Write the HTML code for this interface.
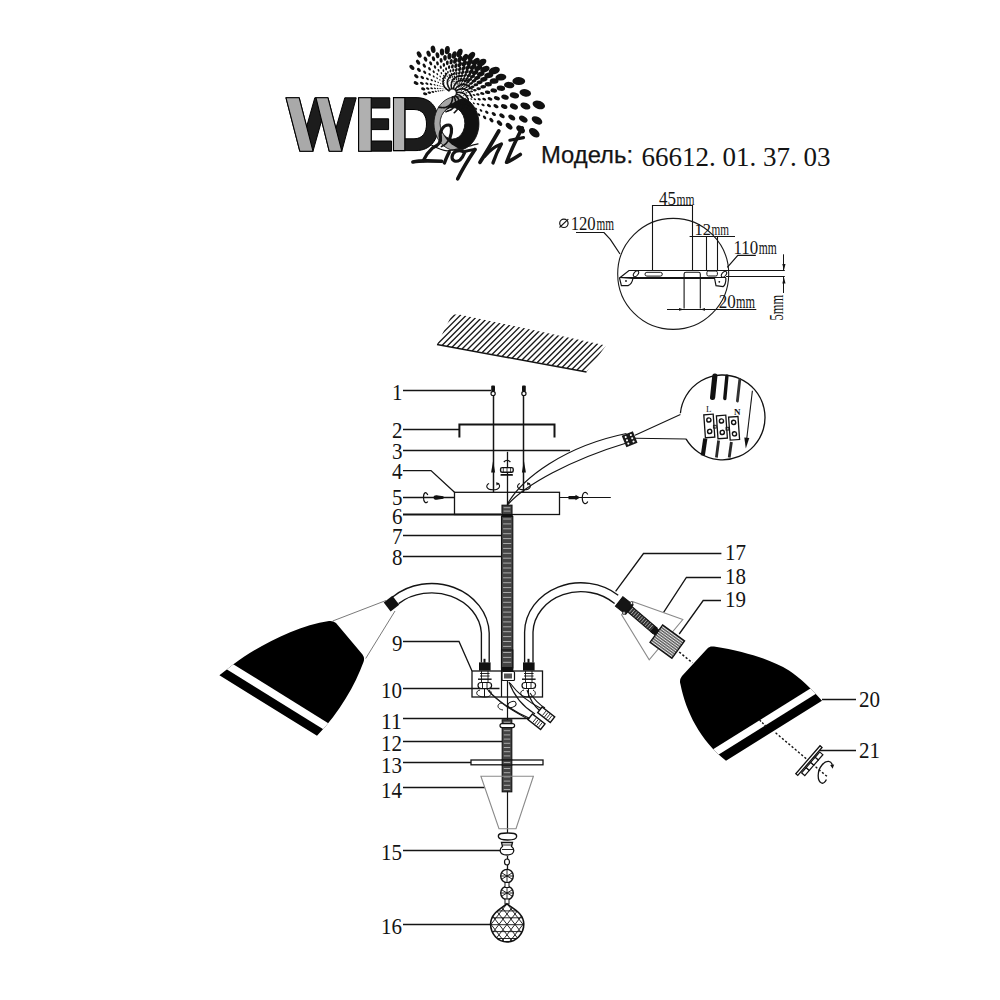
<!DOCTYPE html>
<html><head><meta charset="utf-8"><style>html,body{margin:0;padding:0;background:#fff;width:1000px;height:1000px;overflow:hidden}svg{display:block}</style></head>
<body><svg width="1000" height="1000" viewBox="0 0 1000 1000">
<rect width="1000" height="1000" fill="#fff"/>
<polygon points="286.00,97.80 299.20,97.80 306.64,126.60 314.80,97.80 328.00,97.80 335.92,128.28 344.80,97.80 356.20,97.80 341.80,151.20 329.20,151.20 321.64,120.48 313.00,151.20 299.80,151.20" fill="#1c1c1c" stroke="#000" stroke-width="1" />
<polygon points="286.00,97.80 299.20,97.80 313.00,151.20 299.80,151.20" fill="#a9a9a9" stroke="#000" stroke-width="1.1" />
<polygon points="316.00,97.80 328.00,97.80 341.80,151.20 329.20,151.20" fill="#a9a9a9" stroke="#000" stroke-width="1.1" />
<polygon points="358.60,97.80 389.80,97.80 389.80,108.00 371.20,108.00 371.20,118.80 388.60,118.80 388.60,129.60 371.20,129.60 371.20,141.00 391.60,141.00 391.60,151.20 358.60,151.20" fill="#1c1c1c" stroke="#000" stroke-width="1" />
<polygon points="358.60,97.80 371.20,97.80 371.20,151.20 358.60,151.20" fill="#b0b0b0" stroke="#000" stroke-width="1.1" />
<path d="M393.5,97.6 L416,97.6 C433,97.6 438.5,110 438.5,124 C438.5,139 431,150.6 416,150.6 L393.5,150.6 Z M405,109.5 L414,109.5 C423,109.5 426.5,116 426.5,124 C426.5,132 423,138.8 414,138.8 L405,138.8 Z" fill="#1c1c1c" fill-rule="evenodd" stroke="#000" stroke-width="1"/>
<polygon points="393.50,97.60 404.80,97.60 404.80,150.60 393.50,150.60" fill="#b0b0b0" stroke="#000" stroke-width="1.1" />
<defs><clipPath id="oclip"><ellipse cx="478" cy="124" rx="37.5" ry="28.5"/></clipPath></defs>
<path d="M456.5,96.6 A22.5,27 0 1 1 456.4,96.6 Z M452.4,107.5 A12.4,15.8 0 1 0 452.5,107.5 Z" fill="#a6a6a6" fill-rule="evenodd" stroke="#1a1a1a" stroke-width="0.9"/>
<path d="M456.5,96.6 A22.5,27 0 1 1 456.4,96.6 Z M452.4,107.5 A12.4,15.8 0 1 0 452.5,107.5 Z" fill="#111" fill-rule="evenodd" clip-path="url(#oclip)"/>
<g fill="#111"><ellipse cx="534.3" cy="132.7" rx="6.07" ry="3.76" transform="rotate(38 534.3 132.7)"/><ellipse cx="520.6" cy="129.4" rx="4.92" ry="3.05" transform="rotate(40 520.6 129.4)"/><ellipse cx="509.1" cy="126.2" rx="3.98" ry="2.47" transform="rotate(43 509.1 126.2)"/><ellipse cx="499.5" cy="123.1" rx="3.22" ry="2.00" transform="rotate(45 499.5 123.1)"/><ellipse cx="491.4" cy="120.1" rx="2.61" ry="1.62" transform="rotate(47 491.4 120.1)"/><ellipse cx="484.6" cy="117.3" rx="2.11" ry="1.31" transform="rotate(49 484.6 117.3)"/><ellipse cx="478.9" cy="114.7" rx="1.71" ry="1.06" transform="rotate(52 478.9 114.7)"/><ellipse cx="474.2" cy="112.3" rx="1.38" ry="0.86" transform="rotate(54 474.2 112.3)"/><ellipse cx="470.3" cy="110.1" rx="1.12" ry="0.69" transform="rotate(56 470.3 110.1)"/><ellipse cx="467.0" cy="108.1" rx="0.91" ry="0.56" transform="rotate(58 467.0 108.1)"/><ellipse cx="464.3" cy="106.3" rx="0.73" ry="0.46" transform="rotate(61 464.3 106.3)"/><ellipse cx="462.1" cy="104.6" rx="0.59" ry="0.37" transform="rotate(63 462.1 104.6)"/><ellipse cx="537.0" cy="120.4" rx="5.78" ry="3.58" transform="rotate(30 537.0 120.4)"/><ellipse cx="523.3" cy="119.1" rx="4.68" ry="2.90" transform="rotate(32 523.3 119.1)"/><ellipse cx="511.8" cy="117.5" rx="3.79" ry="2.35" transform="rotate(35 511.8 117.5)"/><ellipse cx="502.0" cy="115.8" rx="3.06" ry="1.90" transform="rotate(37 502.0 115.8)"/><ellipse cx="493.8" cy="114.0" rx="2.48" ry="1.54" transform="rotate(39 493.8 114.0)"/><ellipse cx="486.8" cy="112.2" rx="2.01" ry="1.25" transform="rotate(41 486.8 112.2)"/><ellipse cx="481.0" cy="110.4" rx="1.63" ry="1.01" transform="rotate(44 481.0 110.4)"/><ellipse cx="476.1" cy="108.7" rx="1.32" ry="0.82" transform="rotate(46 476.1 108.7)"/><ellipse cx="472.0" cy="107.1" rx="1.07" ry="0.66" transform="rotate(48 472.0 107.1)"/><ellipse cx="468.6" cy="105.6" rx="0.86" ry="0.53" transform="rotate(51 468.6 105.6)"/><ellipse cx="465.7" cy="104.2" rx="0.70" ry="0.43" transform="rotate(53 465.7 104.2)"/><ellipse cx="463.4" cy="103.0" rx="0.57" ry="0.35" transform="rotate(55 463.4 103.0)"/><ellipse cx="538.8" cy="104.9" rx="6.50" ry="4.03" transform="rotate(20 538.8 104.9)"/><ellipse cx="525.4" cy="106.0" rx="5.26" ry="3.26" transform="rotate(22 525.4 106.0)"/><ellipse cx="513.9" cy="106.5" rx="4.26" ry="2.64" transform="rotate(25 513.9 106.5)"/><ellipse cx="504.2" cy="106.5" rx="3.45" ry="2.14" transform="rotate(27 504.2 106.5)"/><ellipse cx="496.0" cy="106.2" rx="2.79" ry="1.73" transform="rotate(29 496.0 106.2)"/><ellipse cx="489.0" cy="105.6" rx="2.26" ry="1.40" transform="rotate(31 489.0 105.6)"/><ellipse cx="483.0" cy="104.9" rx="1.83" ry="1.13" transform="rotate(34 483.0 104.9)"/><ellipse cx="478.0" cy="104.1" rx="1.48" ry="0.92" transform="rotate(36 478.0 104.1)"/><ellipse cx="473.8" cy="103.3" rx="1.20" ry="0.74" transform="rotate(38 473.8 103.3)"/><ellipse cx="470.2" cy="102.4" rx="0.97" ry="0.60" transform="rotate(40 470.2 102.4)"/><ellipse cx="467.2" cy="101.6" rx="0.79" ry="0.49" transform="rotate(43 467.2 101.6)"/><ellipse cx="464.7" cy="100.7" rx="0.64" ry="0.39" transform="rotate(45 464.7 100.7)"/><ellipse cx="525.3" cy="92.9" rx="5.87" ry="3.64" transform="rotate(12 525.3 92.9)"/><ellipse cx="514.4" cy="95.4" rx="4.75" ry="2.95" transform="rotate(14 514.4 95.4)"/><ellipse cx="505.0" cy="97.1" rx="3.85" ry="2.39" transform="rotate(17 505.0 97.1)"/><ellipse cx="496.9" cy="98.2" rx="3.12" ry="1.93" transform="rotate(19 496.9 98.2)"/><ellipse cx="490.0" cy="98.9" rx="2.52" ry="1.56" transform="rotate(21 490.0 98.9)"/><ellipse cx="484.2" cy="99.2" rx="2.04" ry="1.27" transform="rotate(23 484.2 99.2)"/><ellipse cx="479.2" cy="99.3" rx="1.65" ry="1.03" transform="rotate(26 479.2 99.3)"/><ellipse cx="474.9" cy="99.2" rx="1.34" ry="0.83" transform="rotate(28 474.9 99.2)"/><ellipse cx="471.3" cy="99.0" rx="1.08" ry="0.67" transform="rotate(30 471.3 99.0)"/><ellipse cx="468.3" cy="98.7" rx="0.88" ry="0.54" transform="rotate(33 468.3 98.7)"/><ellipse cx="465.7" cy="98.4" rx="0.71" ry="0.44" transform="rotate(35 465.7 98.4)"/><ellipse cx="463.5" cy="98.0" rx="0.57" ry="0.36" transform="rotate(37 463.5 98.0)"/><ellipse cx="518.8" cy="81.1" rx="6.42" ry="3.98" transform="rotate(2 518.8 81.1)"/><ellipse cx="509.2" cy="85.1" rx="5.19" ry="3.22" transform="rotate(4 509.2 85.1)"/><ellipse cx="500.9" cy="88.2" rx="4.21" ry="2.61" transform="rotate(7 500.9 88.2)"/><ellipse cx="493.8" cy="90.5" rx="3.40" ry="2.11" transform="rotate(9 493.8 90.5)"/><ellipse cx="487.6" cy="92.2" rx="2.76" ry="1.71" transform="rotate(11 487.6 92.2)"/><ellipse cx="482.3" cy="93.5" rx="2.23" ry="1.38" transform="rotate(13 482.3 93.5)"/><ellipse cx="477.8" cy="94.4" rx="1.81" ry="1.12" transform="rotate(16 477.8 94.4)"/><ellipse cx="474.0" cy="95.0" rx="1.46" ry="0.91" transform="rotate(18 474.0 95.0)"/><ellipse cx="470.6" cy="95.4" rx="1.18" ry="0.73" transform="rotate(20 470.6 95.4)"/><ellipse cx="467.8" cy="95.6" rx="0.96" ry="0.59" transform="rotate(22 467.8 95.6)"/><ellipse cx="465.4" cy="95.7" rx="0.78" ry="0.48" transform="rotate(25 465.4 95.7)"/><ellipse cx="463.4" cy="95.7" rx="0.63" ry="0.39" transform="rotate(27 463.4 95.7)"/><ellipse cx="500.9" cy="77.2" rx="5.46" ry="3.38" transform="rotate(-6 500.9 77.2)"/><ellipse cx="494.1" cy="81.1" rx="4.42" ry="2.74" transform="rotate(-4 494.1 81.1)"/><ellipse cx="488.3" cy="84.3" rx="3.58" ry="2.22" transform="rotate(-1 488.3 84.3)"/><ellipse cx="483.2" cy="86.8" rx="2.90" ry="1.80" transform="rotate(1 483.2 86.8)"/><ellipse cx="478.7" cy="88.7" rx="2.34" ry="1.45" transform="rotate(3 478.7 88.7)"/><ellipse cx="474.9" cy="90.2" rx="1.90" ry="1.18" transform="rotate(5 474.9 90.2)"/><ellipse cx="471.6" cy="91.4" rx="1.54" ry="0.95" transform="rotate(8 471.6 91.4)"/><ellipse cx="468.8" cy="92.2" rx="1.24" ry="0.77" transform="rotate(10 468.8 92.2)"/><ellipse cx="466.4" cy="92.9" rx="1.01" ry="0.62" transform="rotate(12 466.4 92.9)"/><ellipse cx="464.3" cy="93.3" rx="0.82" ry="0.51" transform="rotate(15 464.3 93.3)"/><ellipse cx="462.5" cy="93.6" rx="0.66" ry="0.41" transform="rotate(17 462.5 93.6)"/><ellipse cx="460.9" cy="93.9" rx="0.53" ry="0.33" transform="rotate(19 460.9 93.9)"/><ellipse cx="494.3" cy="70.6" rx="5.67" ry="3.51" transform="rotate(-16 494.3 70.6)"/><ellipse cx="488.8" cy="75.3" rx="4.59" ry="2.84" transform="rotate(-14 488.8 75.3)"/><ellipse cx="483.9" cy="79.2" rx="3.71" ry="2.30" transform="rotate(-11 483.9 79.2)"/><ellipse cx="479.6" cy="82.3" rx="3.01" ry="1.86" transform="rotate(-9 479.6 82.3)"/><ellipse cx="475.9" cy="84.8" rx="2.43" ry="1.51" transform="rotate(-7 475.9 84.8)"/><ellipse cx="472.6" cy="86.8" rx="1.97" ry="1.22" transform="rotate(-5 472.6 86.8)"/><ellipse cx="469.8" cy="88.4" rx="1.60" ry="0.99" transform="rotate(-2 469.8 88.4)"/><ellipse cx="467.4" cy="89.6" rx="1.29" ry="0.80" transform="rotate(-0 467.4 89.6)"/><ellipse cx="465.2" cy="90.6" rx="1.05" ry="0.65" transform="rotate(2 465.2 90.6)"/><ellipse cx="463.4" cy="91.4" rx="0.85" ry="0.52" transform="rotate(4 463.4 91.4)"/><ellipse cx="461.8" cy="91.9" rx="0.69" ry="0.42" transform="rotate(7 461.8 91.9)"/><ellipse cx="484.9" cy="69.3" rx="4.88" ry="3.02" transform="rotate(-24 484.9 69.3)"/><ellipse cx="480.8" cy="74.0" rx="3.95" ry="2.45" transform="rotate(-22 480.8 74.0)"/><ellipse cx="477.2" cy="77.8" rx="3.20" ry="1.98" transform="rotate(-19 477.2 77.8)"/><ellipse cx="474.0" cy="80.9" rx="2.59" ry="1.60" transform="rotate(-17 474.0 80.9)"/><ellipse cx="471.1" cy="83.4" rx="2.09" ry="1.30" transform="rotate(-15 471.1 83.4)"/><ellipse cx="468.6" cy="85.4" rx="1.70" ry="1.05" transform="rotate(-13 468.6 85.4)"/><ellipse cx="466.5" cy="87.1" rx="1.37" ry="0.85" transform="rotate(-10 466.5 87.1)"/><ellipse cx="464.5" cy="88.4" rx="1.11" ry="0.69" transform="rotate(-8 464.5 88.4)"/><ellipse cx="462.9" cy="89.5" rx="0.90" ry="0.56" transform="rotate(-6 462.9 89.5)"/><ellipse cx="461.4" cy="90.3" rx="0.73" ry="0.45" transform="rotate(-3 461.4 90.3)"/><ellipse cx="481.7" cy="62.6" rx="5.21" ry="3.23" transform="rotate(-34 481.7 62.6)"/><ellipse cx="478.3" cy="68.1" rx="4.22" ry="2.61" transform="rotate(-32 478.3 68.1)"/><ellipse cx="475.2" cy="72.7" rx="3.41" ry="2.12" transform="rotate(-29 475.2 72.7)"/><ellipse cx="472.5" cy="76.5" rx="2.76" ry="1.71" transform="rotate(-27 472.5 76.5)"/><ellipse cx="470.0" cy="79.6" rx="2.24" ry="1.39" transform="rotate(-25 470.0 79.6)"/><ellipse cx="467.8" cy="82.2" rx="1.81" ry="1.12" transform="rotate(-23 467.8 82.2)"/><ellipse cx="465.9" cy="84.3" rx="1.47" ry="0.91" transform="rotate(-20 465.9 84.3)"/><ellipse cx="464.2" cy="86.1" rx="1.19" ry="0.74" transform="rotate(-18 464.2 86.1)"/><ellipse cx="462.6" cy="87.5" rx="0.96" ry="0.60" transform="rotate(-16 462.6 87.5)"/><ellipse cx="461.3" cy="88.6" rx="0.78" ry="0.48" transform="rotate(-14 461.3 88.6)"/><ellipse cx="460.1" cy="89.5" rx="0.63" ry="0.39" transform="rotate(-11 460.1 89.5)"/><ellipse cx="475.7" cy="61.6" rx="4.55" ry="2.82" transform="rotate(-41 475.7 61.6)"/><ellipse cx="473.2" cy="67.1" rx="3.68" ry="2.28" transform="rotate(-39 473.2 67.1)"/><ellipse cx="471.0" cy="71.7" rx="2.98" ry="1.85" transform="rotate(-37 471.0 71.7)"/><ellipse cx="468.9" cy="75.5" rx="2.41" ry="1.50" transform="rotate(-35 468.9 75.5)"/><ellipse cx="467.0" cy="78.6" rx="1.95" ry="1.21" transform="rotate(-32 467.0 78.6)"/><ellipse cx="465.3" cy="81.3" rx="1.58" ry="0.98" transform="rotate(-30 465.3 81.3)"/><ellipse cx="463.8" cy="83.4" rx="1.28" ry="0.79" transform="rotate(-28 463.8 83.4)"/><ellipse cx="462.4" cy="85.2" rx="1.04" ry="0.64" transform="rotate(-25 462.4 85.2)"/><ellipse cx="461.1" cy="86.7" rx="0.84" ry="0.52" transform="rotate(-23 461.1 86.7)"/><ellipse cx="460.1" cy="87.9" rx="0.68" ry="0.42" transform="rotate(-21 460.1 87.9)"/><ellipse cx="471.2" cy="56.1" rx="4.85" ry="3.00" transform="rotate(-51 471.2 56.1)"/><ellipse cx="469.6" cy="62.3" rx="3.92" ry="2.43" transform="rotate(-49 469.6 62.3)"/><ellipse cx="468.1" cy="67.4" rx="3.18" ry="1.97" transform="rotate(-46 468.1 67.4)"/><ellipse cx="466.6" cy="71.8" rx="2.57" ry="1.59" transform="rotate(-44 466.6 71.8)"/><ellipse cx="465.2" cy="75.4" rx="2.08" ry="1.29" transform="rotate(-42 465.2 75.4)"/><ellipse cx="463.8" cy="78.5" rx="1.68" ry="1.04" transform="rotate(-40 463.8 78.5)"/><ellipse cx="462.6" cy="81.0" rx="1.36" ry="0.85" transform="rotate(-37 462.6 81.0)"/><ellipse cx="461.5" cy="83.1" rx="1.10" ry="0.68" transform="rotate(-35 461.5 83.1)"/><ellipse cx="460.5" cy="84.9" rx="0.89" ry="0.55" transform="rotate(-33 460.5 84.9)"/><ellipse cx="459.5" cy="86.4" rx="0.72" ry="0.45" transform="rotate(-31 459.5 86.4)"/><ellipse cx="458.7" cy="87.6" rx="0.59" ry="0.36" transform="rotate(-28 458.7 87.6)"/><ellipse cx="465.0" cy="57.8" rx="4.21" ry="2.61" transform="rotate(-58 465.0 57.8)"/><ellipse cx="464.3" cy="63.5" rx="3.41" ry="2.11" transform="rotate(-56 464.3 63.5)"/><ellipse cx="463.5" cy="68.3" rx="2.76" ry="1.71" transform="rotate(-54 463.5 68.3)"/><ellipse cx="462.7" cy="72.4" rx="2.23" ry="1.38" transform="rotate(-52 462.7 72.4)"/><ellipse cx="461.8" cy="75.8" rx="1.81" ry="1.12" transform="rotate(-49 461.8 75.8)"/><ellipse cx="461.0" cy="78.7" rx="1.46" ry="0.91" transform="rotate(-47 461.0 78.7)"/><ellipse cx="460.2" cy="81.1" rx="1.18" ry="0.73" transform="rotate(-45 460.2 81.1)"/><ellipse cx="459.4" cy="83.1" rx="0.96" ry="0.59" transform="rotate(-42 459.4 83.1)"/><ellipse cx="458.7" cy="84.8" rx="0.78" ry="0.48" transform="rotate(-40 458.7 84.8)"/><ellipse cx="458.0" cy="86.2" rx="0.63" ry="0.39" transform="rotate(-38 458.0 86.2)"/><ellipse cx="459.5" cy="53.0" rx="4.47" ry="2.77" transform="rotate(-68 459.5 53.0)"/><ellipse cx="459.8" cy="59.2" rx="3.62" ry="2.24" transform="rotate(-66 459.8 59.2)"/><ellipse cx="459.8" cy="64.5" rx="2.93" ry="1.82" transform="rotate(-63 459.8 64.5)"/><ellipse cx="459.7" cy="69.0" rx="2.37" ry="1.47" transform="rotate(-61 459.7 69.0)"/><ellipse cx="459.4" cy="72.9" rx="1.92" ry="1.19" transform="rotate(-59 459.4 72.9)"/><ellipse cx="459.0" cy="76.1" rx="1.55" ry="0.96" transform="rotate(-57 459.0 76.1)"/><ellipse cx="458.6" cy="78.8" rx="1.26" ry="0.78" transform="rotate(-54 458.6 78.8)"/><ellipse cx="458.2" cy="81.1" rx="1.02" ry="0.63" transform="rotate(-52 458.2 81.1)"/><ellipse cx="457.7" cy="83.1" rx="0.82" ry="0.51" transform="rotate(-50 457.7 83.1)"/><ellipse cx="457.2" cy="84.7" rx="0.67" ry="0.41" transform="rotate(-48 457.2 84.7)"/><ellipse cx="454.2" cy="55.0" rx="3.87" ry="2.40" transform="rotate(-75 454.2 55.0)"/><ellipse cx="455.2" cy="60.7" rx="3.13" ry="1.94" transform="rotate(-73 455.2 60.7)"/><ellipse cx="455.9" cy="65.7" rx="2.54" ry="1.57" transform="rotate(-71 455.9 65.7)"/><ellipse cx="456.3" cy="69.9" rx="2.05" ry="1.27" transform="rotate(-69 456.3 69.9)"/><ellipse cx="456.5" cy="73.5" rx="1.66" ry="1.03" transform="rotate(-66 456.5 73.5)"/><ellipse cx="456.6" cy="76.5" rx="1.35" ry="0.83" transform="rotate(-64 456.6 76.5)"/><ellipse cx="456.5" cy="79.1" rx="1.09" ry="0.68" transform="rotate(-62 456.5 79.1)"/><ellipse cx="456.4" cy="81.3" rx="0.88" ry="0.55" transform="rotate(-59 456.4 81.3)"/><ellipse cx="456.2" cy="83.2" rx="0.71" ry="0.44" transform="rotate(-57 456.2 83.2)"/><ellipse cx="455.9" cy="84.7" rx="0.58" ry="0.36" transform="rotate(-55 455.9 84.7)"/><ellipse cx="447.3" cy="50.1" rx="4.11" ry="2.55" transform="rotate(-85 447.3 50.1)"/><ellipse cx="449.5" cy="56.3" rx="3.32" ry="2.06" transform="rotate(-83 449.5 56.3)"/><ellipse cx="451.2" cy="61.7" rx="2.69" ry="1.67" transform="rotate(-80 451.2 61.7)"/><ellipse cx="452.4" cy="66.4" rx="2.18" ry="1.35" transform="rotate(-78 452.4 66.4)"/><ellipse cx="453.3" cy="70.3" rx="1.76" ry="1.09" transform="rotate(-76 453.3 70.3)"/><ellipse cx="454.0" cy="73.8" rx="1.43" ry="0.89" transform="rotate(-74 454.0 73.8)"/><ellipse cx="454.4" cy="76.7" rx="1.16" ry="0.72" transform="rotate(-71 454.4 76.7)"/><ellipse cx="454.6" cy="79.2" rx="0.94" ry="0.58" transform="rotate(-69 454.6 79.2)"/><ellipse cx="454.8" cy="81.3" rx="0.76" ry="0.47" transform="rotate(-67 454.8 81.3)"/><ellipse cx="454.8" cy="83.1" rx="0.61" ry="0.38" transform="rotate(-65 454.8 83.1)"/><ellipse cx="442.0" cy="52.0" rx="3.55" ry="2.20" transform="rotate(-92 442.0 52.0)"/><ellipse cx="445.0" cy="57.8" rx="2.88" ry="1.78" transform="rotate(-90 445.0 57.8)"/><ellipse cx="447.3" cy="62.8" rx="2.33" ry="1.44" transform="rotate(-88 447.3 62.8)"/><ellipse cx="449.1" cy="67.1" rx="1.88" ry="1.17" transform="rotate(-86 449.1 67.1)"/><ellipse cx="450.5" cy="70.9" rx="1.53" ry="0.95" transform="rotate(-83 450.5 70.9)"/><ellipse cx="451.5" cy="74.1" rx="1.24" ry="0.77" transform="rotate(-81 451.5 74.1)"/><ellipse cx="452.3" cy="76.9" rx="1.00" ry="0.62" transform="rotate(-79 452.3 76.9)"/><ellipse cx="452.9" cy="79.3" rx="0.81" ry="0.50" transform="rotate(-76 452.9 79.3)"/><ellipse cx="453.3" cy="81.3" rx="0.66" ry="0.41" transform="rotate(-74 453.3 81.3)"/><ellipse cx="453.5" cy="83.1" rx="0.53" ry="0.33" transform="rotate(-72 453.5 83.1)"/><ellipse cx="433.1" cy="49.3" rx="3.74" ry="2.32" transform="rotate(-102 433.1 49.3)"/><ellipse cx="437.5" cy="55.2" rx="3.03" ry="1.88" transform="rotate(-100 437.5 55.2)"/><ellipse cx="441.1" cy="60.4" rx="2.45" ry="1.52" transform="rotate(-97 441.1 60.4)"/><ellipse cx="443.9" cy="64.9" rx="1.98" ry="1.23" transform="rotate(-95 443.9 64.9)"/><ellipse cx="446.1" cy="68.8" rx="1.61" ry="1.00" transform="rotate(-93 446.1 68.8)"/><ellipse cx="447.9" cy="72.2" rx="1.30" ry="0.81" transform="rotate(-91 447.9 72.2)"/><ellipse cx="449.3" cy="75.1" rx="1.05" ry="0.65" transform="rotate(-88 449.3 75.1)"/><ellipse cx="450.4" cy="77.7" rx="0.85" ry="0.53" transform="rotate(-86 450.4 77.7)"/><ellipse cx="451.2" cy="79.9" rx="0.69" ry="0.43" transform="rotate(-84 451.2 79.9)"/><ellipse cx="451.8" cy="81.8" rx="0.56" ry="0.35" transform="rotate(-82 451.8 81.8)"/><ellipse cx="428.6" cy="53.7" rx="3.21" ry="1.99" transform="rotate(-109 428.6 53.7)"/><ellipse cx="433.5" cy="58.8" rx="2.60" ry="1.61" transform="rotate(-107 433.5 58.8)"/><ellipse cx="437.5" cy="63.3" rx="2.10" ry="1.30" transform="rotate(-105 437.5 63.3)"/><ellipse cx="440.8" cy="67.2" rx="1.70" ry="1.05" transform="rotate(-103 440.8 67.2)"/><ellipse cx="443.4" cy="70.7" rx="1.38" ry="0.85" transform="rotate(-100 443.4 70.7)"/><ellipse cx="445.5" cy="73.7" rx="1.11" ry="0.69" transform="rotate(-98 445.5 73.7)"/><ellipse cx="447.2" cy="76.3" rx="0.90" ry="0.56" transform="rotate(-96 447.2 76.3)"/><ellipse cx="448.6" cy="78.6" rx="0.73" ry="0.45" transform="rotate(-93 448.6 78.6)"/><ellipse cx="449.6" cy="80.6" rx="0.59" ry="0.37" transform="rotate(-91 449.6 80.6)"/><ellipse cx="419.2" cy="54.5" rx="3.35" ry="2.08" transform="rotate(-119 419.2 54.5)"/><ellipse cx="425.5" cy="59.1" rx="2.71" ry="1.68" transform="rotate(-117 425.5 59.1)"/><ellipse cx="430.7" cy="63.3" rx="2.20" ry="1.36" transform="rotate(-114 430.7 63.3)"/><ellipse cx="435.0" cy="67.0" rx="1.78" ry="1.10" transform="rotate(-112 435.0 67.0)"/><ellipse cx="438.5" cy="70.3" rx="1.44" ry="0.89" transform="rotate(-110 438.5 70.3)"/><ellipse cx="441.4" cy="73.2" rx="1.17" ry="0.72" transform="rotate(-108 441.4 73.2)"/><ellipse cx="443.7" cy="75.8" rx="0.94" ry="0.59" transform="rotate(-105 443.7 75.8)"/><ellipse cx="445.6" cy="78.1" rx="0.76" ry="0.47" transform="rotate(-103 445.6 78.1)"/><ellipse cx="447.1" cy="80.0" rx="0.62" ry="0.38" transform="rotate(-101 447.1 80.0)"/><ellipse cx="448.4" cy="81.8" rx="0.50" ry="0.31" transform="rotate(-99 448.4 81.8)"/><ellipse cx="418.1" cy="62.2" rx="2.85" ry="1.77" transform="rotate(-126 418.1 62.2)"/><ellipse cx="424.3" cy="65.7" rx="2.31" ry="1.43" transform="rotate(-124 424.3 65.7)"/><ellipse cx="429.5" cy="68.8" rx="1.87" ry="1.16" transform="rotate(-122 429.5 68.8)"/><ellipse cx="433.7" cy="71.7" rx="1.51" ry="0.94" transform="rotate(-120 433.7 71.7)"/><ellipse cx="437.3" cy="74.2" rx="1.22" ry="0.76" transform="rotate(-117 437.3 74.2)"/><ellipse cx="440.2" cy="76.5" rx="0.99" ry="0.61" transform="rotate(-115 440.2 76.5)"/><ellipse cx="442.6" cy="78.5" rx="0.80" ry="0.50" transform="rotate(-113 442.6 78.5)"/><ellipse cx="444.6" cy="80.4" rx="0.65" ry="0.40" transform="rotate(-110 444.6 80.4)"/><ellipse cx="446.2" cy="82.0" rx="0.53" ry="0.33" transform="rotate(-108 446.2 82.0)"/><ellipse cx="411.9" cy="67.4" rx="2.96" ry="1.84" transform="rotate(-136 411.9 67.4)"/><ellipse cx="418.9" cy="69.9" rx="2.40" ry="1.49" transform="rotate(-134 418.9 69.9)"/><ellipse cx="424.7" cy="72.2" rx="1.94" ry="1.20" transform="rotate(-131 424.7 72.2)"/><ellipse cx="429.6" cy="74.4" rx="1.57" ry="0.98" transform="rotate(-129 429.6 74.4)"/><ellipse cx="433.7" cy="76.4" rx="1.27" ry="0.79" transform="rotate(-127 433.7 76.4)"/><ellipse cx="437.1" cy="78.2" rx="1.03" ry="0.64" transform="rotate(-125 437.1 78.2)"/><ellipse cx="439.9" cy="79.9" rx="0.83" ry="0.52" transform="rotate(-122 439.9 79.9)"/><ellipse cx="442.2" cy="81.4" rx="0.68" ry="0.42" transform="rotate(-120 442.2 81.4)"/><ellipse cx="444.2" cy="82.8" rx="0.55" ry="0.34" transform="rotate(-118 444.2 82.8)"/><ellipse cx="416.3" cy="76.2" rx="2.54" ry="1.58" transform="rotate(-143 416.3 76.2)"/><ellipse cx="422.3" cy="77.5" rx="2.06" ry="1.28" transform="rotate(-141 422.3 77.5)"/><ellipse cx="427.4" cy="78.8" rx="1.67" ry="1.03" transform="rotate(-139 427.4 78.8)"/><ellipse cx="431.7" cy="80.1" rx="1.35" ry="0.84" transform="rotate(-137 431.7 80.1)"/><ellipse cx="435.2" cy="81.3" rx="1.09" ry="0.68" transform="rotate(-134 435.2 81.3)"/><ellipse cx="438.2" cy="82.4" rx="0.88" ry="0.55" transform="rotate(-132 438.2 82.4)"/><ellipse cx="440.7" cy="83.5" rx="0.72" ry="0.44" transform="rotate(-130 440.7 83.5)"/><ellipse cx="442.8" cy="84.5" rx="0.58" ry="0.36" transform="rotate(-127 442.8 84.5)"/><ellipse cx="416.1" cy="83.1" rx="2.63" ry="1.63" transform="rotate(-153 416.1 83.1)"/><ellipse cx="421.9" cy="83.3" rx="2.13" ry="1.32" transform="rotate(-151 421.9 83.3)"/><ellipse cx="426.9" cy="83.7" rx="1.73" ry="1.07" transform="rotate(-148 426.9 83.7)"/><ellipse cx="431.0" cy="84.2" rx="1.40" ry="0.87" transform="rotate(-146 431.0 84.2)"/><ellipse cx="434.6" cy="84.8" rx="1.13" ry="0.70" transform="rotate(-144 434.6 84.8)"/><ellipse cx="437.5" cy="85.4" rx="0.92" ry="0.57" transform="rotate(-142 437.5 85.4)"/><ellipse cx="440.0" cy="86.0" rx="0.74" ry="0.46" transform="rotate(-139 440.0 86.0)"/><ellipse cx="442.1" cy="86.6" rx="0.60" ry="0.37" transform="rotate(-137 442.1 86.6)"/><ellipse cx="423.2" cy="88.9" rx="2.20" ry="1.36" transform="rotate(-160 423.2 88.9)"/><ellipse cx="427.7" cy="88.5" rx="1.78" ry="1.10" transform="rotate(-158 427.7 88.5)"/><ellipse cx="431.6" cy="88.3" rx="1.44" ry="0.89" transform="rotate(-156 431.6 88.3)"/><ellipse cx="434.9" cy="88.3" rx="1.17" ry="0.72" transform="rotate(-154 434.9 88.3)"/><ellipse cx="437.7" cy="88.4" rx="0.95" ry="0.59" transform="rotate(-151 437.7 88.4)"/><ellipse cx="440.1" cy="88.5" rx="0.77" ry="0.47" transform="rotate(-149 440.1 88.5)"/><ellipse cx="442.1" cy="88.8" rx="0.62" ry="0.38" transform="rotate(-147 442.1 88.8)"/><ellipse cx="443.8" cy="89.0" rx="0.50" ry="0.31" transform="rotate(-144 443.8 89.0)"/><ellipse cx="425.2" cy="93.8" rx="2.21" ry="1.37" transform="rotate(-170 425.2 93.8)"/><ellipse cx="429.3" cy="92.7" rx="1.79" ry="1.11" transform="rotate(-168 429.3 92.7)"/><ellipse cx="432.8" cy="91.9" rx="1.45" ry="0.90" transform="rotate(-165 432.8 91.9)"/><ellipse cx="435.8" cy="91.4" rx="1.17" ry="0.73" transform="rotate(-163 435.8 91.4)"/><ellipse cx="438.4" cy="91.0" rx="0.95" ry="0.59" transform="rotate(-161 438.4 91.0)"/><ellipse cx="440.6" cy="90.8" rx="0.77" ry="0.48" transform="rotate(-159 440.6 90.8)"/><ellipse cx="442.4" cy="90.7" rx="0.62" ry="0.39" transform="rotate(-156 442.4 90.7)"/><ellipse cx="444.0" cy="90.7" rx="0.50" ry="0.31" transform="rotate(-154 444.0 90.7)"/></g>
<path d="M449.0,90.8 L446.4,89.0 L444.2,86.6 L443.0,83.1 L443.5,78.6 L446.6,73.7 M450.1,89.6 L448.4,86.9 L447.4,83.7 L447.7,80.1 L450.0,76.2 L454.9,72.9 M451.7,88.9 L451.2,85.7 L451.6,82.4 L453.3,79.2 L457.0,76.6 L462.8,75.7 M453.3,88.9 L454.2,85.8 L455.9,83.0 L458.8,80.7 L463.2,79.8 L468.9,81.3 M454.9,89.6 L456.9,87.1 L459.6,85.2 L463.1,84.3 L467.5,85.3 L472.1,89.0 M456.0,90.8 L458.8,89.4 L462.1,88.7 L465.7,89.4 L469.3,92.1 L472.0,97.3 M456.5,92.4 L459.7,92.3 L462.9,93.0 L465.9,95.0 L468.1,99.0 L468.5,104.8 M456.3,94.0 L459.3,95.2 L461.9,97.2 L463.8,100.3 L464.3,104.8 L462.2,110.3 M455.5,95.5 L457.7,97.8 L459.3,100.6 L459.8,104.3 L458.4,108.5 L454.3,112.7 M454.1,96.5 L455.2,99.5 L455.6,102.7 L454.5,106.2 L451.5,109.6 L446.0,111.7 M452.5,96.8 L452.3,100.0 L451.3,103.1 L448.9,105.9 L444.7,107.7 L438.9,107.4" fill="none" stroke="#111" stroke-width="1.7" stroke-dasharray="1.8,1.1" stroke-linecap="round"/>
<path d="M450,137.5 C452.5,131 452,125 448.5,125 C443,125 439,132 440.5,138 C441.5,143 438,145.5 432.5,148 C428,152 425,157 423.4,160.5" fill="none" stroke="#141414" stroke-linecap="round" stroke-linejoin="round" stroke-width="3.2"/>
<path d="M450,137.5 C448,142 445.5,145 441.5,146.5" fill="none" stroke="#141414" stroke-linecap="round" stroke-linejoin="round" stroke-width="1.8"/>
<path d="M412.9,162 C420,160.3 432,160.8 441.6,161.3" fill="none" stroke="#141414" stroke-linecap="round" stroke-linejoin="round" stroke-width="3.6"/>
<path d="M431.8,145.2 C437,148 442,150.5 447.2,150.8 C455,150.5 468,146 478,143.8" fill="none" stroke="#141414" stroke-linecap="round" stroke-linejoin="round" stroke-width="1.3"/>
<path d="M444.4,163 C446,159 447.5,155 449.3,152.2" fill="none" stroke="#141414" stroke-linecap="round" stroke-linejoin="round" stroke-width="3.4"/>
<path d="M463,151.5 C458,149 452.5,152 452,157 C452,161 456,162.5 460,160 C463,157.5 464,154 465,151.5 C468,150.5 472,150 475,149.5" fill="none" stroke="#141414" stroke-linecap="round" stroke-linejoin="round" stroke-width="3.2"/>
<path d="M475,149.5 C470,157 463,168 457.7,178.8" fill="none" stroke="#141414" stroke-linecap="round" stroke-linejoin="round" stroke-width="3.6"/>
<path d="M498.8,131 C493,141 486,153 480,162.3" fill="none" stroke="#141414" stroke-linecap="round" stroke-linejoin="round" stroke-width="3.8"/>
<path d="M484.5,156.4 C489,151 496,146 501.4,144 C498,150 495,157 493,162.9" fill="none" stroke="#141414" stroke-linecap="round" stroke-linejoin="round" stroke-width="3.4"/>
<path d="M522.2,127.8 C516,140 510,153 506.6,162.3 C510,161 515,158 520.3,154.5" fill="none" stroke="#141414" stroke-linecap="round" stroke-linejoin="round" stroke-width="3.6"/>
<path d="M509.9,140.2 L523.5,137.6" fill="none" stroke="#141414" stroke-linecap="round" stroke-linejoin="round" stroke-width="3.2"/>
<text x="541" y="163" font-family="Liberation Sans" font-size="24" fill="#141414" textLength="92" lengthAdjust="spacingAndGlyphs" stroke="#141414" stroke-width="0.25">Модель:</text>
<text x="641.6" y="165.5" font-family="Liberation Serif" font-size="27" fill="#141414" textLength="189" lengthAdjust="spacingAndGlyphs">66612. 01. 37. 03</text>
<circle cx="673.2" cy="273.9" r="55.5" fill="none" stroke="#1a1a1a" stroke-width="1.1"/>
<ellipse cx="563.9" cy="223.3" rx="4.2" ry="4.2" fill="none" stroke="#141414" stroke-width="1.2"/><line x1="559.5" y1="227.5" x2="568.3" y2="219.1" stroke="#141414" stroke-width="1.1"/>
<text x="570.7" y="229.9" font-family="Liberation Serif" fill="#141414" font-size="19.4" textLength="25" lengthAdjust="spacingAndGlyphs">120</text>
<text x="596.6" y="229.9" font-family="Liberation Serif" fill="#141414" font-size="18.5" textLength="17.5" lengthAdjust="spacingAndGlyphs">mm</text>
<polyline points="576.00,232.50 604.00,232.50 610.30,239.40 620.00,254.00" fill="none" stroke="#141414" stroke-width="1.2" />
<text x="659" y="204.8" font-family="Liberation Serif" fill="#141414" font-size="18.2" textLength="17" lengthAdjust="spacingAndGlyphs">45</text>
<text x="676.6" y="204.8" font-family="Liberation Serif" fill="#141414" font-size="17.5" textLength="18" lengthAdjust="spacingAndGlyphs">mm</text>
<line x1="653.00" y1="205.50" x2="693.00" y2="205.50" stroke="#141414" stroke-width="1.2" />
<line x1="652.50" y1="205.00" x2="652.50" y2="270.50" stroke="#141414" stroke-width="1.1" />
<line x1="692.50" y1="205.00" x2="692.50" y2="270.50" stroke="#141414" stroke-width="1.1" />
<text x="694.5" y="235.4" font-family="Liberation Serif" fill="#141414" font-size="17.5" textLength="16.5" lengthAdjust="spacingAndGlyphs">12</text>
<text x="711.5" y="235.4" font-family="Liberation Serif" fill="#141414" font-size="17" textLength="17.5" lengthAdjust="spacingAndGlyphs">mm</text>
<line x1="689.60" y1="236.50" x2="735.00" y2="236.50" stroke="#141414" stroke-width="1.1" />
<line x1="706.50" y1="236.50" x2="706.50" y2="270.50" stroke="#141414" stroke-width="1.1" />
<line x1="717.50" y1="236.50" x2="717.50" y2="270.50" stroke="#141414" stroke-width="1.1" />
<text x="733.5" y="254" font-family="Liberation Serif" fill="#141414" font-size="18.5" textLength="24.7" lengthAdjust="spacingAndGlyphs">110</text>
<text x="758.7" y="254" font-family="Liberation Serif" fill="#141414" font-size="18.5" textLength="18" lengthAdjust="spacingAndGlyphs">mm</text>
<polyline points="755.80,255.40 737.80,255.40 727.30,267.30" fill="none" stroke="#141414" stroke-width="1.2" />
<path d="M619.5,278 L629,270.5 L784.8,270.5" fill="none" stroke="#141414" stroke-width="1.2"/>
<path d="M619.5,278 L726,278" fill="none" stroke="#141414" stroke-width="2"/>
<line x1="726.00" y1="276.50" x2="784.80" y2="276.50" stroke="#141414" stroke-width="1.1" />
<path d="M619.5,278 L621.4,285.6 L628,285.6 Q632,284 632.8,279" fill="#fff" stroke="#141414" stroke-width="1.2"/>
<circle cx="626" cy="281" r="0.9" fill="#141414"/>
<path d="M714.5,278 L716,285.6 L723,286.6 Q726,285 725.9,278" fill="#fff" stroke="#141414" stroke-width="1.2"/>
<circle cx="719.3" cy="281.8" r="0.9" fill="#141414"/>
<ellipse cx="636" cy="273.7" rx="2" ry="3.4" transform="rotate(40 636 273.7)" fill="none" stroke="#141414" stroke-width="1"/>
<ellipse cx="724" cy="274.2" rx="2" ry="3.4" transform="rotate(40 724 274.2)" fill="none" stroke="#141414" stroke-width="1"/>
<rect x="645" y="272.3" width="17.3" height="3.8" rx="1.9" fill="none" stroke="#141414" stroke-width="1"/>
<rect x="706.9" y="271" width="10.5" height="5" rx="1.5" fill="none" stroke="#141414" stroke-width="1"/>
<path d="M684.1,308.4 L684.1,274 Q684.1,272.3 686,272.3 L698.5,272.3 Q700.3,272.3 700.3,274 L700.3,308.4" fill="none" stroke="#141414" stroke-width="1.1"/>
<line x1="667.00" y1="309.50" x2="756.30" y2="309.50" stroke="#141414" stroke-width="1.0" />
<polygon points="684.1,309.4 679,308 679,310.8" fill="#141414"/><polygon points="700.3,309.4 705,308 705,310.8" fill="#141414"/>
<text x="718.8" y="308.1" font-family="Liberation Serif" fill="#141414" font-size="18.5" textLength="17" lengthAdjust="spacingAndGlyphs">20</text>
<text x="735.9" y="308.1" font-family="Liberation Serif" fill="#141414" font-size="18.5" textLength="19" lengthAdjust="spacingAndGlyphs">mm</text>
<line x1="783.50" y1="254.30" x2="783.50" y2="271.00" stroke="#141414" stroke-width="1.0" />
<line x1="783.50" y1="277.00" x2="783.50" y2="293.00" stroke="#141414" stroke-width="1.0" />
<polygon points="783.9,270.5 782.3,264 785.5,264" fill="#141414"/><polygon points="783.9,277 782.3,283.5 785.5,283.5" fill="#141414"/>
<text x="0" y="0" font-family="Liberation Serif" fill="#141414" font-size="18.5" transform="translate(782.9,320.5) rotate(-90)" textLength="25.7" lengthAdjust="spacingAndGlyphs">5mm</text>
<defs><clipPath id="hclip"><polygon points="437,344.5 586.5,372 606,345.5 459,314.5 452,314.5"/></clipPath></defs>
<path d="M417.0,340.8 l40,-40 M422.0,341.8 l40,-40 M427.0,342.7 l40,-40 M432.0,343.6 l40,-40 M437.0,344.5 l40,-40 M442.0,345.4 l40,-40 M447.0,346.3 l40,-40 M452.0,347.2 l40,-40 M457.0,348.2 l40,-40 M462.0,349.1 l40,-40 M467.0,350.0 l40,-40 M472.0,350.9 l40,-40 M477.0,351.8 l40,-40 M482.0,352.7 l40,-40 M487.0,353.6 l40,-40 M492.0,354.6 l40,-40 M497.0,355.5 l40,-40 M502.0,356.4 l40,-40 M507.0,357.3 l40,-40 M512.0,358.2 l40,-40 M517.0,359.1 l40,-40 M522.0,360.1 l40,-40 M527.0,361.0 l40,-40 M532.0,361.9 l40,-40 M537.0,362.8 l40,-40 M542.0,363.7 l40,-40 M547.0,364.6 l40,-40 M552.0,365.5 l40,-40 M557.0,366.5 l40,-40 M562.0,367.4 l40,-40 M567.0,368.3 l40,-40 M572.0,369.2 l40,-40 M577.0,370.1 l40,-40 M582.0,371.0 l40,-40 M587.0,371.9 l40,-40 M592.0,372.9 l40,-40 M597.0,373.8 l40,-40 M602.0,374.7 l40,-40 M607.0,375.6 l40,-40 M612.0,376.5 l40,-40" stroke="#1a1a1a" stroke-width="1.35" clip-path="url(#hclip)" fill="none"/>
<line x1="437.00" y1="344.50" x2="586.50" y2="372.00" stroke="#141414" stroke-width="1.5" />
<text x="392" y="399.6" font-family="Liberation Serif" font-size="23.5" fill="#141414" textLength="10.5" lengthAdjust="spacingAndGlyphs">1</text>
<text x="392" y="438" font-family="Liberation Serif" font-size="23.5" fill="#141414" textLength="10.5" lengthAdjust="spacingAndGlyphs">2</text>
<text x="392" y="459" font-family="Liberation Serif" font-size="23.5" fill="#141414" textLength="10.5" lengthAdjust="spacingAndGlyphs">3</text>
<text x="392" y="479" font-family="Liberation Serif" font-size="23.5" fill="#141414" textLength="10.5" lengthAdjust="spacingAndGlyphs">4</text>
<text x="392" y="505.2" font-family="Liberation Serif" font-size="23.5" fill="#141414" textLength="10.5" lengthAdjust="spacingAndGlyphs">5</text>
<text x="392" y="524" font-family="Liberation Serif" font-size="23.5" fill="#141414" textLength="10.5" lengthAdjust="spacingAndGlyphs">6</text>
<text x="392" y="543.6" font-family="Liberation Serif" font-size="23.5" fill="#141414" textLength="10.5" lengthAdjust="spacingAndGlyphs">7</text>
<text x="392" y="564.6" font-family="Liberation Serif" font-size="23.5" fill="#141414" textLength="10.5" lengthAdjust="spacingAndGlyphs">8</text>
<text x="392" y="651.4" font-family="Liberation Serif" font-size="23.5" fill="#141414" textLength="10.5" lengthAdjust="spacingAndGlyphs">9</text>
<text x="381" y="697.6" font-family="Liberation Serif" font-size="23.5" fill="#141414" textLength="21" lengthAdjust="spacingAndGlyphs">10</text>
<text x="381" y="728.6" font-family="Liberation Serif" font-size="23.5" fill="#141414" textLength="21" lengthAdjust="spacingAndGlyphs">11</text>
<text x="381" y="750.7" font-family="Liberation Serif" font-size="23.5" fill="#141414" textLength="21" lengthAdjust="spacingAndGlyphs">12</text>
<text x="381" y="772.8" font-family="Liberation Serif" font-size="23.5" fill="#141414" textLength="21" lengthAdjust="spacingAndGlyphs">13</text>
<text x="381" y="797.5" font-family="Liberation Serif" font-size="23.5" fill="#141414" textLength="21" lengthAdjust="spacingAndGlyphs">14</text>
<text x="381" y="860" font-family="Liberation Serif" font-size="23.5" fill="#141414" textLength="21" lengthAdjust="spacingAndGlyphs">15</text>
<text x="381" y="934" font-family="Liberation Serif" font-size="23.5" fill="#141414" textLength="21" lengthAdjust="spacingAndGlyphs">16</text>
<text x="725" y="560" font-family="Liberation Serif" font-size="23.5" fill="#141414" textLength="21" lengthAdjust="spacingAndGlyphs">17</text>
<text x="725" y="583.5" font-family="Liberation Serif" font-size="23.5" fill="#141414" textLength="21" lengthAdjust="spacingAndGlyphs">18</text>
<text x="725" y="606.5" font-family="Liberation Serif" font-size="23.5" fill="#141414" textLength="21" lengthAdjust="spacingAndGlyphs">19</text>
<text x="859" y="706.7" font-family="Liberation Serif" font-size="23.5" fill="#141414" textLength="21" lengthAdjust="spacingAndGlyphs">20</text>
<text x="859" y="758" font-family="Liberation Serif" font-size="23.5" fill="#141414" textLength="21" lengthAdjust="spacingAndGlyphs">21</text>
<line x1="403.00" y1="390.50" x2="491.00" y2="390.50" stroke="#141414" stroke-width="1.3" />
<line x1="403.00" y1="429.50" x2="459.40" y2="429.50" stroke="#141414" stroke-width="1.3" />
<path d="M459.4,437.4 L459.4,424.6 L554.5,424.6 L554.5,437.4" fill="none" stroke="#141414" stroke-width="2"/>
<line x1="403.00" y1="450.50" x2="570.00" y2="450.50" stroke="#141414" stroke-width="1.3" />
<polyline points="403.00,470.60 431.00,470.60 454.50,492.30" fill="none" stroke="#141414" stroke-width="1.3" />
<line x1="403.00" y1="497.50" x2="454.50" y2="497.50" stroke="#141414" stroke-width="1.3" />
<line x1="403.00" y1="514.50" x2="501.00" y2="514.50" stroke="#141414" stroke-width="2" />
<line x1="403.00" y1="535.50" x2="501.00" y2="535.50" stroke="#141414" stroke-width="1.3" />
<line x1="403.00" y1="556.50" x2="501.00" y2="556.50" stroke="#141414" stroke-width="1.3" />
<polyline points="403.00,641.50 459.00,641.50 472.00,671.00" fill="none" stroke="#141414" stroke-width="1.3" />
<line x1="403.00" y1="688.50" x2="499.50" y2="688.50" stroke="#141414" stroke-width="1.3" />
<line x1="403.00" y1="718.50" x2="529.00" y2="718.50" stroke="#141414" stroke-width="1.3" />
<line x1="403.00" y1="741.50" x2="502.00" y2="741.50" stroke="#141414" stroke-width="1.3" />
<line x1="403.00" y1="762.50" x2="471.00" y2="762.50" stroke="#141414" stroke-width="1.3" />
<line x1="403.00" y1="787.50" x2="484.80" y2="787.50" stroke="#141414" stroke-width="1.3" />
<line x1="403.00" y1="850.50" x2="501.70" y2="850.50" stroke="#141414" stroke-width="1.3" />
<line x1="403.00" y1="924.50" x2="490.00" y2="924.50" stroke="#141414" stroke-width="1.3" />
<polyline points="721.40,553.50 643.50,553.50 615.60,591.40" fill="none" stroke="#141414" stroke-width="1.3" />
<polyline points="721.00,577.50 686.40,577.50 663.60,612.40" fill="none" stroke="#141414" stroke-width="1.3" />
<polyline points="721.00,600.50 703.20,600.50 679.20,634.00" fill="none" stroke="#141414" stroke-width="1.3" />
<line x1="822.00" y1="699.50" x2="856.00" y2="699.50" stroke="#141414" stroke-width="1.3" />
<line x1="820.00" y1="750.50" x2="856.00" y2="750.50" stroke="#141414" stroke-width="1.3" />
<line x1="493.50" y1="395.00" x2="493.50" y2="492.30" stroke="#141414" stroke-width="1.5" />
<rect x="491.2" y="385.6" width="3.8" height="5.8" rx="1" fill="#111"/>
<circle cx="493.1" cy="393.4" r="2.1" fill="#fff" stroke="#111" stroke-width="1.2"/>
<polygon points="491.1,472.5 495.1,472.5 493.1,460.8" fill="#111"/>
<path d="M489.1,483.6 C485.1,485 486.1,489.8 493.1,489.8 C500.1,489.8 501.1,485 497.6,483.4" fill="none" stroke="#111" stroke-width="1.1"/>
<polygon points="496.1,482.3 499.6,483.3 496.6,485.5" fill="#111"/>
<line x1="523.50" y1="395.00" x2="523.50" y2="492.30" stroke="#141414" stroke-width="1.5" />
<rect x="522.0" y="385.6" width="3.8" height="5.8" rx="1" fill="#111"/>
<circle cx="523.9" cy="393.4" r="2.1" fill="#fff" stroke="#111" stroke-width="1.2"/>
<polygon points="521.9,472.5 525.9,472.5 523.9,460.8" fill="#111"/>
<path d="M519.9,483.6 C515.9,485 516.9,489.8 523.9,489.8 C530.9,489.8 531.9,485 528.4,483.4" fill="none" stroke="#111" stroke-width="1.1"/>
<polygon points="526.9,482.3 530.4,483.3 527.4,485.5" fill="#111"/>
<line x1="507.50" y1="451.80" x2="507.50" y2="505.00" stroke="#141414" stroke-width="1.3" />
<path d="M503.8,462 Q507,458.5 510.4,462" fill="none" stroke="#111" stroke-width="1.2"/>
<rect x="500.6" y="467.6" width="12.6" height="4.7" rx="1.5" fill="#fff" stroke="#111" stroke-width="1.4"/>
<path d="M503.3,467.8 V472.2 M507,467.8 V472.2 M510.6,467.8 V472.2" stroke="#111" stroke-width="0.8"/>
<rect x="500.4" y="474" width="12.6" height="1.8" rx="0.9" fill="#111"/>
<rect x="454.50" y="492.30" width="105.00" height="22.20" fill="none" stroke="#141414" stroke-width="1.3" />
<path d="M427.8,495 C426,491 423.5,492.5 423.5,497.5 C423.5,502.5 426,504 427.8,501.5" fill="none" stroke="#111" stroke-width="1.2"/>
<path d="M433.5,497.5 C433.5,495 436,494.8 438,495.5 L443.5,496.3 L443.5,498.7 L438,499.5 C436,500.2 433.5,500 433.5,497.5 Z" fill="#111"/>
<path d="M568.5,496 L575.5,496 L575.5,494.8 L580.2,497.6 L575.5,500.3 L575.5,499.2 L568.5,499.2 Z" fill="#111"/>
<path d="M587.7,494.5 C586.5,491 582.3,491.5 582.3,498 C582.3,504.5 586.5,505 587.7,501.5" fill="none" stroke="#111" stroke-width="1.2"/>
<line x1="559.50" y1="497.50" x2="610.80" y2="497.50" stroke="#141414" stroke-width="1.2" />
<path d="M507.2,504.5 C522,478 565,446 626.5,433.5" fill="none" stroke="#141414" stroke-width="1.25" />
<path d="M507.6,504.8 C525,485 570,460 628,442.5" fill="none" stroke="#141414" stroke-width="1.25" />
<g transform="rotate(-22 629.6 439.2)"><rect x="623.6" y="433" width="12" height="12.5" fill="#1a1a1a"/><circle cx="626.8" cy="435.8" r="1.05" fill="#fff"/><circle cx="626.8" cy="439.3" r="1.05" fill="#fff"/><circle cx="626.8" cy="442.8" r="1.05" fill="#fff"/><circle cx="632.4" cy="435.8" r="1.05" fill="#fff"/><circle cx="632.4" cy="439.3" r="1.05" fill="#fff"/><circle cx="632.4" cy="442.8" r="1.05" fill="#fff"/></g>
<path d="M680.4,413.2 A42.4,42.4 0 1 1 686,438.8" fill="none" stroke="#111" stroke-width="1.3"/>
<line x1="635.00" y1="435.20" x2="680.40" y2="414.50" stroke="#141414" stroke-width="1.1" />
<line x1="635.00" y1="438.30" x2="686.00" y2="439.00" stroke="#141414" stroke-width="1.1" />
<path d="M714.8,376.2 L712.6,397.5" stroke="#111" stroke-width="5.2" stroke-linecap="round"/>
<path d="M726.9,376.2 L724.8,398.5" stroke="#111" stroke-width="3.4" stroke-linecap="round"/>
<path d="M739.8,379.5 L737.4,401" stroke="#333" stroke-width="2.8" stroke-linecap="round"/>
<line x1="752.40" y1="390.80" x2="746.60" y2="440.00" stroke="#141414" stroke-width="1.1" />
<polygon points="744.3,437.5 749.3,438 745.8,448.4" fill="#111"/>
<text x="706" y="412.4" font-family="Liberation Serif" font-size="9" fill="#111">L</text>
<text x="734" y="414.8" font-family="Liberation Serif" font-size="9" font-weight="bold" fill="#111">N</text>
<g transform="rotate(-4 703.8 414.8)"><rect x="703.8" y="414.8" width="9.4" height="23" fill="#fff" stroke="#111" stroke-width="1.3"/><circle cx="708.5" cy="420.3" r="2.1" fill="#fff" stroke="#111" stroke-width="1.4"/><circle cx="708.5" cy="431.8" r="2.1" fill="#fff" stroke="#111" stroke-width="1.4"/></g>
<g transform="rotate(-4 716.4 415.8)"><rect x="716.4" y="415.8" width="9.4" height="23" fill="#fff" stroke="#111" stroke-width="1.3"/><circle cx="721.1" cy="421.3" r="2.1" fill="#fff" stroke="#111" stroke-width="1.4"/><circle cx="721.1" cy="432.8" r="2.1" fill="#fff" stroke="#111" stroke-width="1.4"/></g>
<g transform="rotate(-4 728.6 417.2)"><rect x="728.6" y="417.2" width="9.4" height="23" fill="#fff" stroke="#111" stroke-width="1.3"/><circle cx="733.3000000000001" cy="422.7" r="2.1" fill="#fff" stroke="#111" stroke-width="1.4"/><circle cx="733.3000000000001" cy="434.2" r="2.1" fill="#fff" stroke="#111" stroke-width="1.4"/></g>
<rect x="713.40" y="425.30" width="2.80" height="2.80" fill="none" stroke="#141414" stroke-width="0.9" />
<rect x="726.00" y="427.30" width="2.80" height="2.80" fill="none" stroke="#141414" stroke-width="0.9" />
<path d="M705.3,438.5 L702.8,455.5" stroke="#111" stroke-width="4.2"/>
<path d="M718.6,440.5 L716.4,457.5" stroke="#2a2a2a" stroke-width="2.8"/>
<path d="M731.4,442 L729.2,457.5" stroke="#2a2a2a" stroke-width="2.8"/>
<rect x="502" y="505.2" width="10.00" height="9.30" fill="#444444" stroke="#111" stroke-width="1.1"/>
<path d="M503.6,507.7 H510.4 M503.6,511.1 H510.4" stroke="#a8a8a8" stroke-width="1" fill="none"/>
<rect x="501.2" y="514.5" width="11.6" height="2.2" fill="#111"/>
<rect x="501.5" y="516.5" width="11.30" height="154.50" fill="#444444" stroke="#111" stroke-width="1.1"/>
<path d="M503.1,519.0 H511.2 M503.1,523.9 H511.2 M503.1,528.8 H511.2 M503.1,533.7 H511.2 M503.1,538.6 H511.2 M503.1,543.5 H511.2 M503.1,548.4 H511.2 M503.1,553.3 H511.2 M503.1,558.2 H511.2 M503.1,563.1 H511.2 M503.1,568.0 H511.2 M503.1,572.9 H511.2 M503.1,577.8 H511.2 M503.1,582.7 H511.2 M503.1,587.6 H511.2 M503.1,592.5 H511.2 M503.1,597.4 H511.2 M503.1,602.3 H511.2 M503.1,607.2 H511.2 M503.1,612.1 H511.2 M503.1,617.0 H511.2 M503.1,621.9 H511.2 M503.1,626.8 H511.2 M503.1,631.7 H511.2 M503.1,636.6 H511.2 M503.1,641.5 H511.2 M503.1,646.4 H511.2 M503.1,651.3 H511.2 M503.1,656.2 H511.2 M503.1,661.1 H511.2 M503.1,666.0 H511.2" stroke="#a8a8a8" stroke-width="1" fill="none"/>
<path d="M392.6,597 A57.6,51 0 0 1 489.2,633 L489.2,662.4" fill="none" stroke="#141414" stroke-width="1.35" />
<path d="M398.6,603.6 A49.8,42.6 0 0 1 481.4,633 L481.4,662.4" fill="none" stroke="#141414" stroke-width="1.35" />
<g transform="rotate(-38 391.5 603.6)"><rect x="386" y="598" width="11" height="11.2" fill="#111"/></g>
<path d="M524.6,662.4 L524.6,632 A56.4,50 0 0 1 618.2,595.2" fill="none" stroke="#141414" stroke-width="1.35" />
<path d="M533,662.4 L533,632 A48,41.6 0 0 1 614.6,603.6" fill="none" stroke="#141414" stroke-width="1.35" />
<polygon points="632.40,601.60 682.80,619.60 649.20,659.80 621.60,614.80" fill="none" stroke="#8a8a8a" stroke-width="1.1" />
<rect x="625.00" y="616.20" width="34.00" height="6.80" fill="#333" stroke="#111" stroke-width="1.1" transform="rotate(40.6 642.00 619.60)" />
<g transform="rotate(40.6 642 619.6)"><path d="M625.0,616.8 V622.4 M627.6,616.8 V622.4 M630.2,616.8 V622.4 M632.8,616.8 V622.4 M635.4,616.8 V622.4 M638.0,616.8 V622.4 M640.6,616.8 V622.4 M643.2,616.8 V622.4 M645.8,616.8 V622.4 M648.4,616.8 V622.4 M651.0,616.8 V622.4 M653.6,616.8 V622.4 M656.2,616.8 V622.4" stroke="#bbb" stroke-width="0.8"/></g>
<rect x="652.00" y="628.00" width="6.00" height="6.00" fill="#111" stroke="#111" stroke-width="1.1" transform="rotate(40.6 655.00 631.00)" />
<rect x="617.80" y="599.50" width="13.00" height="12.00" fill="#151515" stroke="#111" stroke-width="1.1" transform="rotate(38 624.30 605.50)" />
<circle cx="631.5" cy="603" r="1.4" fill="#fff" stroke="#111" stroke-width="0.8"/><circle cx="624" cy="613" r="1.4" fill="#fff" stroke="#111" stroke-width="0.8"/>
<rect x="653.80" y="630.85" width="27.00" height="21.50" fill="#6a6a6a" stroke="#111" stroke-width="1.4" transform="rotate(36 667.30 641.60)" />
<g transform="rotate(36 667.3 641.6)"><path d="M654.5,632.5 H680 M654.5,634.8 H680 M654.5,637.1 H680 M654.5,639.4 H680 M654.5,641.7 H680 M654.5,644.0 H680 M654.5,646.3 H680 M654.5,648.6 H680 M654.5,650.9 H680" stroke="#e8e8e8" stroke-width="0.9"/></g>
<line x1="679.20" y1="652.00" x2="692.40" y2="662.80" stroke="#141414" stroke-width="1.5" stroke-dasharray="2.2,2"/>
<defs><clipPath id="cls"><path d="M219.4,675.2 L233.8,664 C255,648 295,626 329,621 Q333,620.5 336,623 L362.5,654.5 Q365,658 363.5,662 C355,685 340,712 317,735.7 Z"/></clipPath><clipPath id="crs"><path d="M710.8,646.4 Q708,647 706,650 L682,676 Q679,680 680.4,684 C686,712 700,740 726,760.8 L822,700.8 C813,690 799,677 789,670.5 C772,660.5 749,652 714,646.4 Z"/></clipPath></defs>
<path d="M219.4,675.2 L233.8,664 C255,648 295,626 329,621 Q333,620.5 336,623 L362.5,654.5 Q365,658 363.5,662 C355,685 340,712 317,735.7 Z" fill="#000"/>
<polygon points="207.04,657.18 338.64,738.76 342.74,732.13 211.15,650.55" fill="#fff" stroke="none" stroke-width="1" clip-path="url(#cls)"/>
<line x1="332.70" y1="621.00" x2="386.00" y2="600.50" stroke="#6a6a6a" stroke-width="0.9" />
<line x1="365.70" y1="658.50" x2="395.00" y2="611.00" stroke="#6a6a6a" stroke-width="0.9" />
<path d="M710.8,646.4 Q708,647 706,650 L682,676 Q679,680 680.4,684 C686,712 700,740 726,760.8 L822,700.8 C813,690 799,677 789,670.5 C772,660.5 749,652 714,646.4 Z" fill="#000"/>
<polygon points="704.16,763.60 834.08,682.40 830.16,676.12 700.24,757.32" fill="#fff" stroke="none" stroke-width="1" clip-path="url(#crs)"/>
<line x1="759.60" y1="720.00" x2="766.00" y2="726.40" stroke="#141414" stroke-width="1.4" stroke="#111" stroke-dasharray="2,1.6"/>
<line x1="775.60" y1="732.80" x2="806.60" y2="759.00" stroke="#141414" stroke-width="1.4" stroke-dasharray="2.2,2"/>
<rect x="790.40" y="759.30" width="37.00" height="2.60" fill="#fff" stroke="#111" stroke-width="1.3" transform="rotate(-49 808.90 760.60)" />
<g transform="rotate(-49 812 764.1)"><rect x="798.6" y="762" width="6.9" height="4.2" fill="#fff" stroke="#111" stroke-width="1.2"/><rect x="805.5" y="762" width="6.9" height="4.2" fill="#fff" stroke="#111" stroke-width="1.2"/><rect x="812.4" y="762" width="6.9" height="4.2" fill="#fff" stroke="#111" stroke-width="1.2"/><rect x="819.3" y="762" width="6.9" height="4.2" fill="#fff" stroke="#111" stroke-width="1.2"/></g>
<path d="M832.4,766.5 C832,760 826,760 822,765 C817,771 817,781 821.5,783 C823.5,784 825.5,781.5 826.4,779.4" fill="none" stroke="#111" stroke-width="1.3"/>
<polygon points="830.2,765 834.2,764.5 832.6,768.8" fill="#111"/>
<line x1="815.60" y1="766.80" x2="827.00" y2="776.40" stroke="#141414" stroke-width="1.4" stroke-dasharray="2.2,2"/>
<rect x="472.00" y="671.00" width="70.50" height="26.00" fill="none" stroke="#141414" stroke-width="1.3" />
<line x1="501.50" y1="671.00" x2="501.50" y2="697.00" stroke="#141414" stroke-width="1.2" />
<line x1="507.50" y1="681.00" x2="507.50" y2="834.00" stroke="#141414" stroke-width="1.2" />
<rect x="501.5" y="650" width="11.30" height="18.00" fill="#444444" stroke="#111" stroke-width="1.1"/>
<path d="M503.1,652.5 H511.2 M503.1,657.4 H511.2 M503.1,662.3 H511.2" stroke="#a8a8a8" stroke-width="1" fill="none"/>
<rect x="501.5" y="667" width="11.3" height="4" fill="#111"/>
<rect x="502" y="671.5" width="12.5" height="9" rx="1" fill="#fff" stroke="#111" stroke-width="1.2"/>
<rect x="504" y="673.5" width="8" height="5" fill="#555"/>
<rect x="479" y="662.4" width="11.6" height="8.2" fill="#111"/>
<rect x="483.5" y="658.8" width="2" height="4" fill="#111"/>
<path d="M480,673.5 H489.6 M480,676 H489.6 M481.5,671 V682 M488,671 V682" stroke="#111" stroke-width="0.9"/>
<rect x="478" y="678.5" width="13.6" height="1.4" fill="#111"/>
<rect x="478" y="682.5" width="13.6" height="6" rx="3" fill="#fff" stroke="#111" stroke-width="1.2"/>
<path d="M482.5,682.8 V688.3 M487,682.8 V688.3" stroke="#111" stroke-width="0.9"/>
<path d="M480,690 C475,691 475,697 485,697 C492,697 493,692 489,690" fill="none" stroke="#111" stroke-width="1"/>
<line x1="484.50" y1="688.00" x2="484.50" y2="697.00" stroke="#141414" stroke-width="1" />
<rect x="523" y="662.4" width="11.6" height="8.2" fill="#111"/>
<rect x="527.5" y="658.8" width="2" height="4" fill="#111"/>
<path d="M524,673.5 H533.6 M524,676 H533.6 M525.5,671 V682 M532,671 V682" stroke="#111" stroke-width="0.9"/>
<rect x="522" y="678.5" width="13.6" height="1.4" fill="#111"/>
<rect x="522" y="682.5" width="13.6" height="6" rx="3" fill="#fff" stroke="#111" stroke-width="1.2"/>
<path d="M526.5,682.8 V688.3 M531,682.8 V688.3" stroke="#111" stroke-width="0.9"/>
<path d="M524,690 C519,691 519,697 529,697 C536,697 537,692 533,690" fill="none" stroke="#111" stroke-width="1"/>
<line x1="528.50" y1="688.00" x2="528.50" y2="697.00" stroke="#141414" stroke-width="1" />
<path d="M487,689 C497,700 510,710 531,719" fill="none" stroke="#141414" stroke-width="1.1" />
<path d="M488.5,691 C500,704 515,712 533,722" fill="none" stroke="#141414" stroke-width="1.1" />
<path d="M509,682 C514,696 522,706 535,714" fill="none" stroke="#141414" stroke-width="1.1" />
<path d="M510,683 C518,694 528,702 542,709" fill="none" stroke="#141414" stroke-width="1.1" />
<path d="M527,690 C530,700 534,706 540,711" fill="none" stroke="#141414" stroke-width="1.1" />
<path d="M530,693 C536,702 540,705 545,708" fill="none" stroke="#141414" stroke-width="1.1" />
<rect x="528.50" y="718.20" width="16.00" height="7.20" fill="#fff" stroke="#111" stroke-width="1.4" transform="rotate(38 536.50 721.80)" />
<rect x="538.20" y="711.20" width="16.00" height="7.20" fill="#fff" stroke="#111" stroke-width="1.4" transform="rotate(38 546.20 714.80)" />
<g transform="rotate(38 536.5 721.8)"><path d="M534,719 V724.6 M536.5,719 V724.6 M539,719 V724.6 M541.5,719 V724.6" stroke="#111" stroke-width="0.8"/></g>
<g transform="rotate(38 546.2 714.8)"><path d="M543.7,712 V717.6 M546.2,712 V717.6 M548.7,712 V717.6 M551.2,712 V717.6" stroke="#111" stroke-width="0.8"/></g>
<path d="M502,703 C497,703 496,709 503,710" fill="none" stroke="#111" stroke-width="1"/>
<ellipse cx="512" cy="704.5" rx="4.2" ry="2.8" fill="none" stroke="#111" stroke-width="1" transform="rotate(-20 512 704.5)"/>
<rect x="502.2" y="719.8" width="9.60" height="72.00" fill="#444444" stroke="#111" stroke-width="1.1"/>
<path d="M503.8,722.3 H510.2 M503.8,726.5 H510.2 M503.8,730.7 H510.2 M503.8,734.9 H510.2 M503.8,739.1 H510.2 M503.8,743.3 H510.2 M503.8,747.5 H510.2 M503.8,751.7 H510.2 M503.8,755.9 H510.2 M503.8,760.1 H510.2 M503.8,764.3 H510.2 M503.8,768.5 H510.2 M503.8,772.7 H510.2 M503.8,776.9 H510.2 M503.8,781.1 H510.2 M503.8,785.3 H510.2 M503.8,789.5 H510.2" stroke="#a8a8a8" stroke-width="1" fill="none"/>
<rect x="500" y="723.6" width="14.6" height="4" rx="2" fill="#fff" stroke="#111" stroke-width="1.2"/>
<rect x="471.00" y="760.00" width="72.00" height="4.80" fill="#fff" stroke="#141414" stroke-width="1.3" />
<rect x="502.2" y="760" width="9.60" height="5.00" fill="#444444" stroke="#111" stroke-width="1.1"/>
<path d="M503.8,762.5 H510.2" stroke="#a8a8a8" stroke-width="1" fill="none"/>
<polygon points="480.90,776.20 533.40,776.20 516.00,828.70 499.00,828.70" fill="none" stroke="#8a8a8a" stroke-width="1.1" />
<path d="M498.5,837 C497.5,833 503,833 507.5,833 C512,833 517.5,833 516.5,837 C516,841 499.5,841 498.5,837 Z" fill="#fff" stroke="#111" stroke-width="1.3"/>
<path d="M501.5,842.5 H512.5 L511.5,846.5 Q514,848 513.75,851 Q513,855 507,855 Q500.8,855 500.2,851 Q500,848 502.5,846.5 Z" fill="#fff" stroke="#111" stroke-width="1.3"/>
<path d="M502.5,845 H512 M502,849.5 H513" stroke="#111" stroke-width="0.9"/>
<line x1="507.50" y1="856.00" x2="507.50" y2="904.00" stroke="#141414" stroke-width="1.3" />
<ellipse cx="507" cy="862" rx="2.5" ry="3" fill="#fff" stroke="#111" stroke-width="1.2"/>
<ellipse cx="507" cy="876" rx="6.3" ry="6.6" fill="#fff" stroke="#111" stroke-width="1.4"/>
<path d="M502,873 L512,879 M502,879 L512,873 M500.7,876 H513.3 M507,869.5 V882.5" stroke="#111" stroke-width="0.9"/>
<ellipse cx="507" cy="893" rx="6.3" ry="6.6" fill="#fff" stroke="#111" stroke-width="1.4"/>
<path d="M502,890 L512,896 M502,896 L512,890 M500.7,893 H513.3 M507,886.5 V899.5" stroke="#111" stroke-width="0.9"/>
<rect x="505" y="882.5" width="4" height="5" fill="#fff" stroke="#111" stroke-width="1"/>
<rect x="505" y="899" width="4" height="5" fill="#fff" stroke="#111" stroke-width="1"/>
<defs><clipPath id="ccl"><path d="M506.9,903.8 C512,908 523.8,913 523.8,924 C523.8,934 516,941.9 507,941.9 C498,941.9 490.6,934 490.6,924 C490.6,913 502,908 506.9,903.8 Z"/></clipPath></defs>
<path d="M506.9,903.8 C512,908 523.8,913 523.8,924 C523.8,934 516,941.9 507,941.9 C498,941.9 490.6,934 490.6,924 C490.6,913 502,908 506.9,903.8 Z" fill="#fff" stroke="none"/>
<path d="M435.9,884.0 L482.1,944.0 M482.1,884.0 L435.9,944.0 M443.9,884.0 L490.1,944.0 M490.1,884.0 L443.9,944.0 M451.9,884.0 L498.1,944.0 M498.1,884.0 L451.9,944.0 M459.9,884.0 L506.1,944.0 M506.1,884.0 L459.9,944.0 M467.9,884.0 L514.1,944.0 M514.1,884.0 L467.9,944.0 M475.9,884.0 L522.1,944.0 M522.1,884.0 L475.9,944.0 M483.9,884.0 L530.1,944.0 M530.1,884.0 L483.9,944.0 M491.9,884.0 L538.1,944.0 M538.1,884.0 L491.9,944.0 M499.9,884.0 L546.1,944.0 M546.1,884.0 L499.9,944.0 M507.9,884.0 L554.1,944.0 M554.1,884.0 L507.9,944.0 M515.9,884.0 L562.1,944.0 M562.1,884.0 L515.9,944.0 M523.9,884.0 L570.1,944.0 M570.1,884.0 L523.9,944.0 M531.9,884.0 L578.1,944.0 M578.1,884.0 L531.9,944.0 M489,910.9 H525 M489,917.8 H525 M489,924.7 H525 M489,931.6 H525 M489,938.5 H525" stroke="#1a1a1a" stroke-width="0.95" clip-path="url(#ccl)"/>
<path d="M506.9,903.8 C512,908 523.8,913 523.8,924 C523.8,934 516,941.9 507,941.9 C498,941.9 490.6,934 490.6,924 C490.6,913 502,908 506.9,903.8 Z" fill="none" stroke="#111" stroke-width="1.6"/>
</svg></body></html>
